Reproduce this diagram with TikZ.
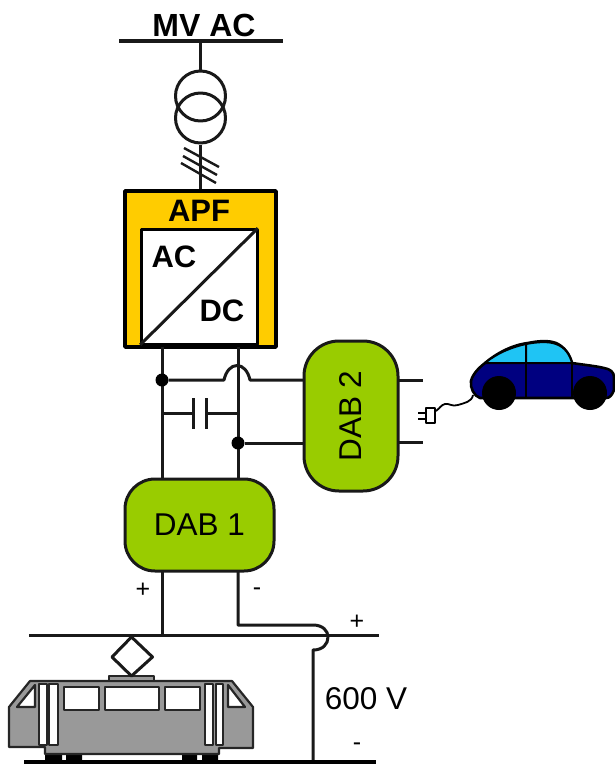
\documentclass[tikz,border=0pt]{standalone}
\usepackage{fontspec}
\setmainfont{Liberation Sans}
\definecolor{apfy}{HTML}{FFCC00}
\definecolor{dabg}{HTML}{99CC00}
\definecolor{carn}{HTML}{000080}
\definecolor{carc}{HTML}{1FC4F4}
\definecolor{tramg}{HTML}{999999}
\begin{document}
\begin{tikzpicture}[x=1pt,y=-1pt,line join=round,
  wire/.style={draw=black!90,line width=3pt},
  dabbox/.style={draw=black!90,line width=3pt,fill=dabg,inner sep=0pt,font=\fontsize{31.5}{32}\selectfont},
  boldlab/.style={inner sep=0pt,font=\fontsize{31}{32}\selectfont\bfseries},
  plainlab/.style={inner sep=0pt,font=\fontsize{31.5}{32}\selectfont},
  signlab/.style={inner sep=0pt,font=\fontsize{25}{25}\selectfont},
  jdot/.style={circle,fill=black,inner sep=0pt,minimum size=13pt},
  tramline/.style={draw=black!85,line width=2.2pt},
  win/.style={tramline,fill=white}]
\useasboundingbox (0,0) rectangle (614,764);
% --- MV side
\coordinate (mvL) at (119,41); \coordinate (mvR) at (283,41); \coordinate (mvS) at (200.5,41);
\draw[wire,line width=3.4pt] (mvL) -- (mvR);
\node[boldlab,font=\fontsize{32}{32}\selectfont\bfseries] (mvlab) at (204,25) {MV AC};
\node[circle,draw=black!90,line width=3pt,minimum size=50pt,inner sep=0pt] (t1) at (200.5,96) {};
\node[circle,draw=black!90,line width=3pt,minimum size=50pt,inner sep=0pt] (t2) at (200.5,118) {};
\draw[wire] (mvS) -- (t1.north);
% --- APF
\node[draw=black,line width=3.4pt,fill=apfy,minimum width=151pt,minimum height=156pt,inner sep=0pt] (apf) at (200.5,269) {};
\node[draw=black,line width=3pt,fill=white,minimum width=116pt,minimum height=115pt,inner sep=0pt] (conv) at (199,286.5) {};
\draw[wire,shorten >=1pt,shorten <=1pt] (conv.south west) -- (conv.north east);
\node[boldlab] (apflab) at (199,211) {APF};
\node[boldlab] (aclab) at (174,257) {AC};
\node[boldlab] (dclab) at (222,311) {DC};
\draw[wire] (t2.south) -- (t2.south |- apf.north);
\draw[wire,line width=2.4pt] (184,148) -- (219,167) (183,156) -- (217,175) (181,163) -- (216,183);
% --- DABs
\node[dabbox,rounded corners=35pt,minimum width=94pt,minimum height=150pt] (dabb) at (351,416) {\rotatebox{90}{DAB 2}};
\node[dabbox,rounded corners=30pt,minimum width=149pt,minimum height=92pt] (daba) at (199.5,525) {DAB 1};
% --- DC link
\coordinate (lt) at (162,347); \coordinate (rt) at (238,347);
\coordinate (lb) at (162,479); \coordinate (rb) at (238,479);
\draw[wire] (lt) -- (lb);
\draw[wire] (rt) -- (rb);
\node[jdot] (j1) at (162,380) {};
\node[jdot] (j2) at (238,443) {};
\coordinate (dabbt) at (304,380); \coordinate (dabbm) at (304,443);
\draw[wire] (j1) -- (224,380) .. controls (226,371) and (231,365.5) .. (237,365.5) .. controls (243,365.5) and (248,371) .. (250,380) -- (dabbt);
\draw[wire] (j2) -- (dabbm);
% capacitor
\coordinate (cl) at (162,413); \coordinate (cr) at (238,413);
\draw[wire] (cl) -- (193,413) (206,413) -- (cr);
\draw[wire] (193,398) -- (193,429) (206,398) -- (206,429);
% DAB2 stubs
\coordinate (s1a) at (398,380); \coordinate (s1b) at (423,380);
\coordinate (s2a) at (398,442); \coordinate (s2b) at (423,442);
\draw[wire] (s1a) -- (s1b);
\draw[wire] (s2a) -- (s2b);
% --- catenary
\coordinate (catL) at (29,635); \coordinate (catR) at (379,635);
\coordinate (railL) at (24,762); \coordinate (railR) at (376,762);
\coordinate (a1) at (162,571); \coordinate (a2) at (162,635);
\coordinate (b1) at (238,571);
\draw[wire] (catL) -- (catR);
\draw[wire] (a1) -- (a2);
\draw[wire] (b1) -- (238,625) -- (313,625) .. controls (323,625) and (328,631) .. (328,637) .. controls (328,644) and (323,650) .. (313,650) -- (313,762);
\draw[draw=black,line width=4.5pt] (railL) -- (railR);
\node[signlab] (p1) at (143,590) {+};
\node[signlab] (m1) at (257,592) {-};
\node[signlab] (p2) at (357,622) {+};
\node[signlab] (m2) at (357,747) {-};
\node[plainlab] (vlab) at (366,699) {600 V};
% --- tram
\fill[black] (45,754) rectangle (62,762) (66,754) rectangle (82,762) (182,754) rectangle (197,762) (202,754) rectangle (218,762);
\draw[tramline,fill=tramg] (9,707) -- (30,681) -- (232,681) -- (253,707) -- (253,748) -- (219,748) -- (219,754) -- (45,754) -- (45,747) -- (9,747) -- cycle;
\draw[tramline,fill=tramg] (109,681) rectangle (154,676);
\draw[wire] (131.5,637) -- (152.5,657) -- (131.5,676) -- (112,657) -- cycle;
\draw[win] (64,687) rectangle (99,710);
\draw[win] (105,687) rectangle (159,710);
\draw[win] (165,687) rectangle (200,710);
\draw[win] (39,684) rectangle (47,745);
\draw[win] (49,684) rectangle (58,745);
\draw[win] (205,684) rectangle (213,745);
\draw[win] (216,684) rectangle (223,745);
\draw[win] (17,707) -- (35,685) -- (35,707) -- cycle;
\draw[win] (228,685) -- (245,707) -- (228,707) -- cycle;
% --- car
\draw[black,line width=2.6pt,fill=carn] (480,398) .. controls (474,396) and (470,388) .. (471,381) .. controls (473,373) and (480,367) .. (485,363) .. controls (497,353) and (512,345) .. (528,343) .. controls (538,341) and (548,340) .. (556,343) .. controls (565,347) and (570,355) .. (572,363) .. controls (585,365) and (596,366) .. (604,368) .. controls (610,369) and (614,372) .. (614,377) -- (614,390) .. controls (612,395) and (610,398) .. (606,398) -- cycle;
\draw[black,line width=2pt,fill=carc] (485,363) .. controls (497,353) and (512,347) .. (526,344) -- (526,363) -- cycle;
\draw[black,line width=2pt,fill=carc] (526,344) .. controls (537,342) and (548,341) .. (556,344) .. controls (565,347) and (570,355) .. (572,363) -- (526,363) -- cycle;
\draw[black,line width=2pt] (526,344) -- (526,398) (572,363) -- (572,398);
\fill[black] (499,393) circle (17) (590,393) circle (17);
% cord and plug
\draw[black,line width=1.8pt] (473,395) .. controls (472,402) and (464,403) .. (458,405) .. controls (452,407) and (449,403) .. (445,404) .. controls (441,405) and (440,408) .. (436,411);
\draw[black,line width=2pt,fill=white] (426,408) rectangle (435,423);
\draw[black,line width=2pt] (418,413) -- (426,413) (418,419) -- (426,419);
\end{tikzpicture}
\end{document}
